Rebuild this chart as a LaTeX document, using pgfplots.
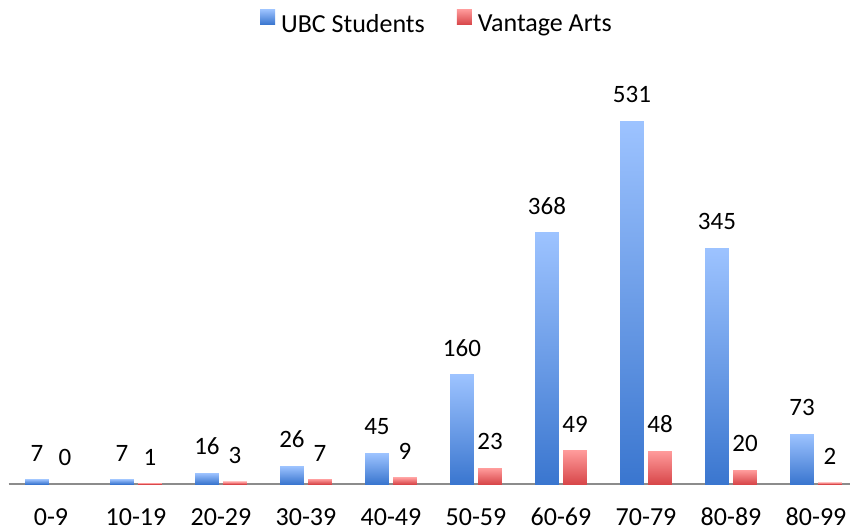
\documentclass[border=0pt]{standalone}
\usepackage{pgfplots}
\pgfplotsset{compat=1.18}
\usepackage{fontspec}
\setmainfont{Carlito}
\definecolor{bTop}{HTML}{9DC3FF}
\definecolor{bBot}{HTML}{3A76CF}
\definecolor{rTop}{HTML}{FF9B9B}
\definecolor{rBot}{HTML}{D8474A}
\definecolor{axgray}{HTML}{8C8C8C}
\pgfplotsset{
  bbar/.style={draw=none, top color=bTop, bottom color=bBot, bar shift=-0.165, point meta=y},
  rbar/.style={draw=none, top color=rTop, bottom color=rBot, bar shift=0.165, point meta=explicit},
}
\begin{document}
\begin{tikzpicture}
\useasboundingbox (0,0) rectangle (850pt,531pt);
\begin{axis}[
  at={(8.5pt,47pt)}, anchor=south west,
  width=850pt, height=410pt, scale only axis,
  xmin=-0.5, xmax=9.5, ymin=0, ymax=600,
  axis x line*=bottom, axis y line=none,
  x axis line style={draw=axgray, line width=1.3pt},
  xtick={0,...,9},
  xticklabels={0-9,10-19,20-29,30-39,40-49,50-59,60-69,70-79,80-89,80-99},
  major tick length=0pt, ytick=\empty,
  xticklabel style={anchor=base, yshift=-41pt, font=\fontsize{26}{30}\selectfont},
  /pgf/number format/assume math mode=true,
  ybar, bar width=0.28,
  clip=false,
  nodes near coords,
  nodes near coords style={anchor=south, inner sep=0pt, yshift=18pt, font=\fontsize{25}{30}\selectfont, text=black, text opacity=1},
  legend style={at={(0.504,1.125)}, anchor=center, draw=none, legend columns=2,
    /tikz/every even column/.append style={column sep=30pt},
    /tikz/every odd column/.append style={column sep=4pt},
    font=\fontsize{26}{30}\selectfont},
  legend image code/.code={\path[#1] (0pt,0pt) rectangle (15pt,15pt);},
]
% UBC Students
\addplot[bbar] coordinates {(0,7)};
\addlegendentry{UBC Students}
% Vantage Arts
\addplot[rbar] coordinates {(1,1) [1]};
\addlegendentry{Vantage Arts}
% value 0: no visible bar, only its label
\addplot[rbar, forget plot, fill opacity=0, draw opacity=0] coordinates {(0,0.01) [0]};
\addplot[bbar, forget plot] coordinates {(1,7)};
\addplot[bbar, forget plot] coordinates {(2,16)};
\addplot[bbar, forget plot] coordinates {(3,26)};
\addplot[bbar, forget plot] coordinates {(4,45)};
\addplot[bbar, forget plot] coordinates {(5,160)};
\addplot[bbar, forget plot] coordinates {(6,368)};
\addplot[bbar, forget plot] coordinates {(7,531)};
\addplot[bbar, forget plot] coordinates {(8,345)};
\addplot[bbar, forget plot] coordinates {(9,73)};
\addplot[rbar, forget plot] coordinates {(2,3) [3]};
\addplot[rbar, forget plot] coordinates {(3,7) [7]};
\addplot[rbar, forget plot] coordinates {(4,9) [9]};
\addplot[rbar, forget plot] coordinates {(5,23) [23]};
\addplot[rbar, forget plot] coordinates {(6,49) [49]};
\addplot[rbar, forget plot] coordinates {(7,48) [48]};
\addplot[rbar, forget plot] coordinates {(8,20) [20]};
\addplot[rbar, forget plot] coordinates {(9,2) [2]};
\end{axis}
\end{tikzpicture}
\end{document}
